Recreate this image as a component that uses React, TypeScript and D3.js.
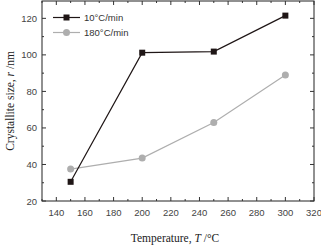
import React from "react";
import * as d3 from "d3";

const temps = [150, 200, 250, 300];
const slowRate = [30.5, 101.2, 101.8, 121.5];
const fastRate = [37.5, 43.5, 63, 89];
const seriesNames = ["10°C/min", "180°C/min"];
const xTicks = [140, 160, 180, 200, 220, 240, 260, 280, 300, 320];
const yTicks = [20, 40, 60, 80, 100, 120];

const W = 321, H = 246;
const L = 42, R = 314, T = 1, B = 201;

export default function App() {
  const x = d3.scaleLinear().domain([130, 320]).range([L, R]);
  const y = d3.scaleLinear().domain([20, 129.5]).range([B, T]);
  const line = d3.line<number>().x((_, i) => x(temps[i])).y((v) => y(v));
  const xMinor = d3.range(130, 321, 10).filter((v) => v % 20 !== 0);
  const yMinor = d3.range(30, 130, 20);
  const black = "#1f1616";
  const gray = "#aeaeae";
  const tickCol = "#333";
  return (
    <svg width={W} height={H} style={{ position: "absolute", left: 0, top: 0 }}>
      <rect x={0} y={0} width={W} height={H} fill="#fff" />
      {/* frame */}
      <rect x={L} y={T} width={R - L} height={B - T} fill="none" stroke="#222" strokeWidth={1} />
      {/* x ticks */}
      {xTicks.map((v) => (
        <g key={"xt" + v}>
          <line x1={x(v)} x2={x(v)} y1={B} y2={B - 4} stroke={tickCol} />
          <line x1={x(v)} x2={x(v)} y1={T} y2={T + 4} stroke={tickCol} />
          <text x={x(v)} y={216} fontSize={9.5} fontFamily="Liberation Sans, Arial" textAnchor="middle" fill="#444">{v}</text>
        </g>
      ))}
      {xMinor.map((v) => (
        <g key={"xm" + v}>
          <line x1={x(v)} x2={x(v)} y1={B} y2={B - 2} stroke={tickCol} />
          <line x1={x(v)} x2={x(v)} y1={T} y2={T + 2} stroke={tickCol} />
        </g>
      ))}
      {yTicks.map((v) => (
        <g key={"yt" + v}>
          <line x1={L} x2={L + 4} y1={y(v)} y2={y(v)} stroke={tickCol} />
          <line x1={R} x2={R - 4} y1={y(v)} y2={y(v)} stroke={tickCol} />
          <text x={37} y={y(v) + 3.5} fontSize={9.5} fontFamily="Liberation Sans, Arial" textAnchor="end" fill="#444">{v}</text>
        </g>
      ))}
      {yMinor.map((v) => (
        <g key={"ym" + v}>
          <line x1={L} x2={L + 2} y1={y(v)} y2={y(v)} stroke={tickCol} />
          <line x1={R} x2={R - 2} y1={y(v)} y2={y(v)} stroke={tickCol} />
        </g>
      ))}
      {/* series */}
      <path d={line(fastRate) || ""} fill="none" stroke={gray} strokeWidth={1.2} />
      {fastRate.map((v, i) => (
        <circle key={"c" + i} cx={x(temps[i])} cy={y(v)} r={3.5} fill={gray} />
      ))}
      <path d={line(slowRate) || ""} fill="none" stroke={black} strokeWidth={1.2} />
      {slowRate.map((v, i) => (
        <rect key={"s" + i} x={x(temps[i]) - 3} y={y(v) - 3} width={6} height={6} fill={black} />
      ))}
      {/* legend */}
      <line x1={53} x2={80} y1={17.5} y2={17.5} stroke={black} strokeWidth={1.2} />
      <rect x={63.5} y={14.5} width={6} height={6} fill={black} />
      <text x={84} y={21} fontSize={9.5} fontFamily="Liberation Sans, Arial" fill="#333">{seriesNames[0]}</text>
      <line x1={53} x2={80} y1={32.5} y2={32.5} stroke={gray} strokeWidth={1.2} />
      <circle cx={66.5} cy={32.5} r={3.5} fill={gray} />
      <text x={84} y={36} fontSize={9.5} fontFamily="Liberation Sans, Arial" fill="#333">{seriesNames[1]}</text>
      {/* axis titles */}
      <text x={175} y={242} fontSize={11.5} fontFamily="Liberation Serif, Times New Roman" textAnchor="middle" fill="#222">
        Temperature, <tspan fontStyle="italic">T</tspan> /°C
      </text>
      <text transform={`translate(14,${(T + B) / 2}) rotate(-90)`} fontSize={11.5} fontFamily="Liberation Serif, Times New Roman" textAnchor="middle" fill="#222">
        Crystallite size, <tspan fontStyle="italic">r</tspan> /nm
      </text>
    </svg>
  );
}
